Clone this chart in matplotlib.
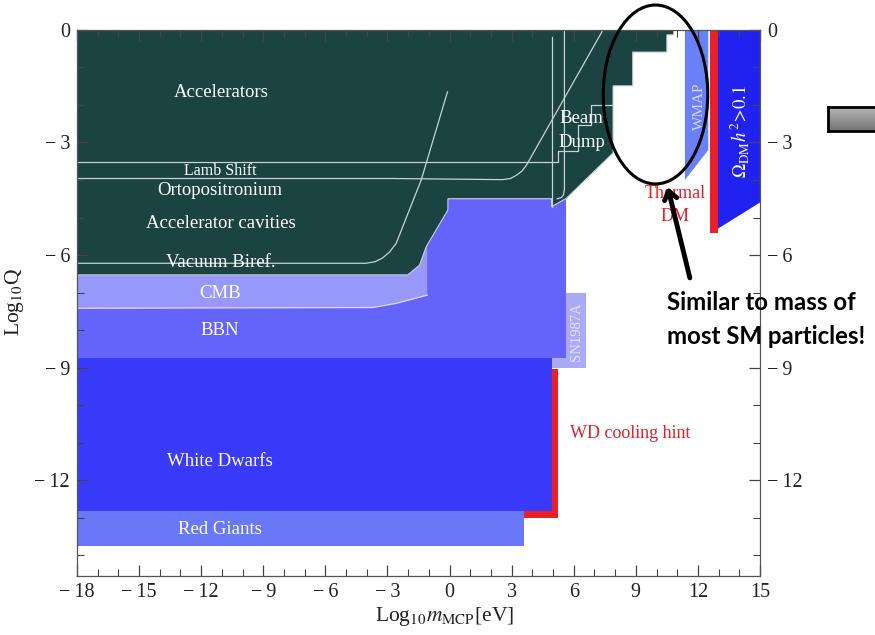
import matplotlib
matplotlib.use("Agg")
import matplotlib.pyplot as plt
from matplotlib.patches import Ellipse
import numpy as np

plt.rcParams['font.family'] = ['Liberation Serif', 'DejaVu Serif']
plt.rcParams['mathtext.fontset'] = 'stix'

# region boundaries (log10 m [eV], log10 Q)
accel_v = [-18, 10.83, 10.83, 10.5, 10.5, 8.85, 8.85, 7.9, 7.9, 5.64, 4.93, 4.93,
           -0.08, -0.08, -1.13, -1.45, -2.02, -18]
accel_q = [0, 0, -0.13, -0.13, -0.59, -0.59, -1.49, -1.49, -3.28, -4.49, -4.71, -4.5,
           -4.5, -4.8, -5.78, -6.27, -6.53, -6.53]
cmb_v = [-18, -1.08, -1.08, -2.58, -3.71, -18]
cmb_q = [-6.0, -5.6, -7.07, -7.29, -7.4, -7.42]
bbn_v = [-18, 5.64, 5.64, -18]
bbn_q = [-4.5, -4.5, -8.75, -8.75]
sn_v = [4.93, 6.61, 6.61, 4.93]
sn_q = [-7.01, -7.01, -9.01, -9.01]
wd_v = [-18, 4.93, 4.93, -18]
wd_q = [-8.75, -8.75, -12.83, -12.83]
rg_v = [-18, 3.58, 3.58, -18]
rg_q = [-12.83, -12.83, -13.75, -13.75]
wdhint_v = [4.93, 5.22, 5.22, 3.58, 3.58, 4.93]
wdhint_q = [-9.04, -9.04, -13.01, -13.01, -12.83, -12.83]
wmap_v = [11.37, 12.5, 12.5, 11.37]
wmap_q = [0, 0, -3.2, -4.0]
thermal_v = [12.58, 12.96, 12.96, 12.58]
thermal_q = [0, 0, -5.41, -5.41]
omega_v = [12.96, 15, 15, 12.96]
omega_q = [0, 0, -4.6, -5.3]

# limit curves drawn inside the accelerator region
lamb_v = [-18, 5.24, 5.24, 6.21, 6.21, 6.85, 6.85, 7.9]
lamb_q = [-3.51, -3.51, -3.23, -3.23, -2.53, -2.53, -2.0, -2.0]
ortho_v = [-18, -2.9, 2.56, 2.95, 3.24, 3.5, 3.72, 7.41]
ortho_q = [-3.96, -3.96, -3.99, -3.96, -3.87, -3.76, -3.6, 0]
vac_v = [-18, -4.03, -3.6, -3.24, -2.9, -2.58, -1.37, -0.1]
vac_q = [-6.22, -6.22, -6.18, -6.08, -5.92, -5.69, -4.0, -1.65]
dump1_v = [4.93, 4.93]
dump1_q = [-0.19, -4.71]
dump2_v = [5.55, 5.55, 5.5, 5.4, 5.2]
dump2_q = [0, -4.25, -4.4, -4.47, -4.5]
cmbline_v = [-18, -3.71, -2.58, -1.08]
cmbline_q = [-7.42, -7.4, -7.29, -7.07]

xticks = [-18, -15, -12, -9, -6, -3, 0, 3, 6, 9, 12, 15]
xlabels = ['\u2212\u200918', '\u2212\u200915', '\u2212\u200912', '\u2212\u20099', '\u2212\u20096',
           '\u2212\u20093', '0', '3', '6', '9', '12', '15']
yticks = [0, -3, -6, -9, -12]
ylabels = ['0', '\u2212\u20093', '\u2212\u20096', '\u2212\u20099', '\u2212\u200912']

dark = '#1b4342'
line_c = '#c9d2d2'

fig = plt.figure(figsize=(8.75, 6.35), dpi=100)
ax = fig.add_axes([0.088, 0.0934, 0.7806, 0.8594])

ax.fill(sn_v, sn_q, color='#aaaaf6', lw=0)
ax.fill(bbn_v, bbn_q, color='#6464fa', lw=0)
ax.fill(cmb_v, cmb_q, color='#9898fa', lw=0)
ax.plot(cmbline_v, cmbline_q, color='#dcdcfc', lw=0.9)
ax.fill(wd_v, wd_q, color='#3a3afa', lw=0)
ax.fill(rg_v, rg_q, color='#6878f6', lw=0)
ax.fill(wdhint_v, wdhint_q, color='#e8202a', lw=0)
ax.fill(accel_v, accel_q, facecolor=dark, edgecolor=line_c, lw=0.8)
ax.fill(wmap_v, wmap_q, color='#6a80f8', lw=0)
ax.fill(omega_v, omega_q, color='#2222f0', lw=0)
ax.fill(thermal_v, thermal_q, color='#e8202a', lw=0)

for lv, lq in [(lamb_v, lamb_q), (ortho_v, ortho_q), (vac_v, vac_q),
               (dump1_v, dump1_q), (dump2_v, dump2_q)]:
    ax.plot(lv, lq, color=line_c, lw=0.9)

ax.set_xlim(-18, 15)
ax.set_ylim(-14.55, 0)
ax.set_xticks(xticks)
ax.set_xticklabels(xlabels)
ax.set_yticks(yticks)
ax.set_yticklabels(ylabels)
ax.set_xticks(np.arange(-18, 16, 1), minor=True)
ax.set_yticks(np.arange(-14, 1, 1), minor=True)
ax.tick_params(which='both', direction='in', top=True, right=True, labelright=True,
               colors='#444444', labelcolor='#222222', labelsize=14.5)
ax.tick_params(which='major', length=8, width=0.9, pad=5)
ax.tick_params(which='minor', length=5, width=0.8)
for s in ax.spines.values():
    s.set_color('#555555')
    s.set_linewidth(0.9)

# region labels
wt = dict(color='white', ha='center', va='center', fontsize=13.5)
ax.text(-11.03, -1.68, 'Accelerators', **wt)
ax.text(-11.08, -3.76, 'Lamb Shift', color='white', ha='center', va='center', fontsize=11.5)
ax.text(-11.08, -4.29, 'Ortopositronium', **wt)
ax.text(-11.05, -5.17, 'Accelerator cavities', **wt)
ax.text(-11.03, -6.19, 'Vacuum Biref.', **wt)
ax.text(-11.08, -7.02, 'CMB', **wt)
ax.text(-11.08, -8.0, 'BBN', **wt)
ax.text(-11.1, -11.51, 'White Dwarfs', **wt)
ax.text(-11.08, -13.31, 'Red Giants', **wt)
ax.text(6.39, -2.35, 'Beam', **wt)
ax.text(6.39, -3.0, 'Dump', **wt)
ax.text(5.8, -10.75, 'WD cooling hint', color='#e8202a', ha='left', va='center', fontsize=13)
ax.text(10.88, -4.36, 'Thermal', color='#e8202a', ha='center', va='center', fontsize=13)
ax.text(10.88, -4.98, 'DM', color='#e8202a', ha='center', va='center', fontsize=13)
ax.text(12.09, -2.03, 'WMAP', color='#d4d8ff', ha='center', va='center', fontsize=11,
        rotation=90)
ax.text(6.14, -8.03, 'SN1987A', color='#e4e4ff', ha='center', va='center', fontsize=10.5,
        rotation=90)
ax.text(14.0, -2.7, r'$\Omega_{\rm DM}h^2\!>\!0.1$', color='white', ha='center',
        va='center', fontsize=13.5, rotation=90)

fig.text(15 / 875, 1 - 302 / 635, r'Log$_{10}$Q', rotation=90, ha='center', va='center',
         fontsize=15.5, color='#222222')
fig.text(445 / 875, 1 - 617 / 635, r'Log$_{10}m_{\rm MCP}$[eV]', ha='center', va='center',
         fontsize=15.5, color='#222222')

# slide annotations
ax.add_patch(Ellipse((9.95, -1.72), 5.05, 4.77, fill=False, ec='black', lw=2.2,
                     clip_on=False, zorder=5))
ax.annotate('', xy=(10.54, -4.19), xytext=(11.61, -6.61), annotation_clip=False,
            arrowprops=dict(arrowstyle='->,head_length=0.6,head_width=0.45', lw=3.5,
                            color='black', shrinkA=0, shrinkB=0))
fig.text(667 / 875, 1 - 303 / 635, 'Similar to mass of', fontfamily='Lato',
         fontweight='bold', fontsize=17.3, ha='left', va='center')
fig.text(667 / 875, 1 - 336 / 635, 'most SM particles!', fontfamily='Lato',
         fontweight='bold', fontsize=17.3, ha='left', va='center')

bax = fig.add_axes([828 / 875, 1 - 131 / 635, 0.07, 24 / 635])
grad = np.linspace(0.72, 0.45, 50).reshape(-1, 1)
bax.imshow(grad, cmap='gray', vmin=0, vmax=1, aspect='auto')
bax.set_xticks([])
bax.set_yticks([])
for s in bax.spines.values():
    s.set_color('black')
    s.set_linewidth(2)

fig.savefig('out.png', dpi=100)
